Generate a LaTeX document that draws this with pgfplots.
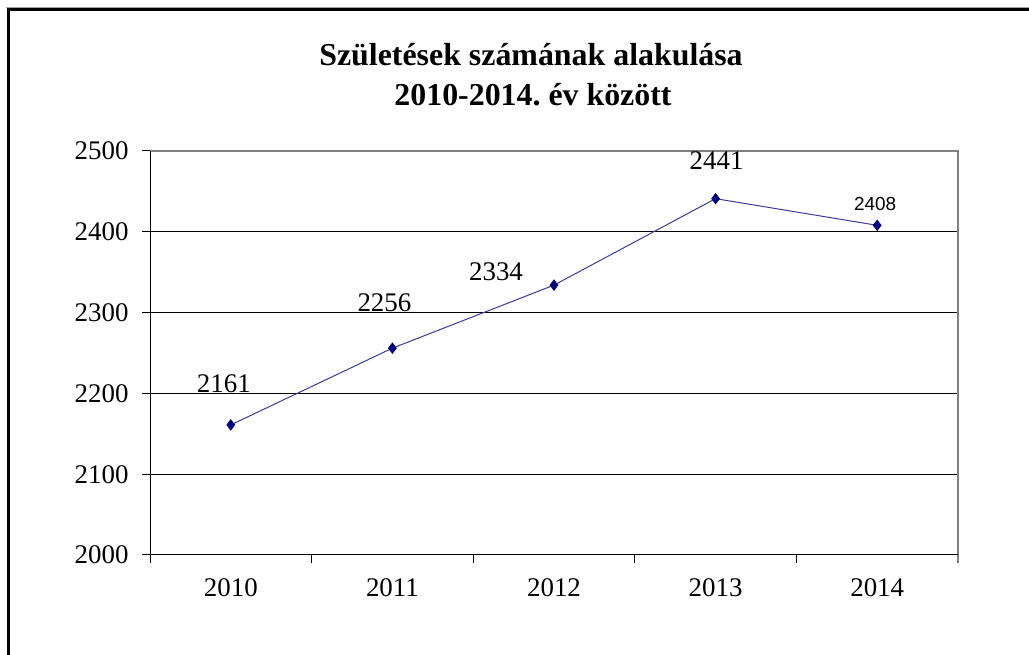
\documentclass[border=0pt]{standalone}
\usepackage{pgfplots}
\pgfplotsset{compat=1.18}
\usepackage{fontspec}
\setmainfont{Liberation Serif}
\newfontfamily\arialf{Liberation Sans}
\definecolor{serie}{RGB}{0,0,128}
\definecolor{linecol}{RGB}{60,60,150}
\frenchspacing
\begin{document}
\begin{tikzpicture}
\useasboundingbox (0,0) rectangle (1029bp,655bp);
\draw[line width=3bp, black] (8bp,-2bp) -- (8bp,645bp) -- (1031bp,645bp);
\draw[line width=1bp, black!35] (6bp,647.5bp) -- (1031bp,647.5bp);
\node[anchor=base, font=\fontsize{32}{36}\selectfont\bfseries] at (531bp,589bp) {Születések számának alakulása};
\node[anchor=base, font=\fontsize{32}{36}\selectfont\bfseries] at (533bp,549bp) {2010-2014. év között};
\begin{axis}[
  at={(150bp,100bp)}, anchor=south west,
  width=808bp, height=404bp, scale only axis,
  xmin=-0.5, xmax=4.5, ymin=2000, ymax=2500,
  xtick={0,1,2,3,4},
  xticklabels={2010,2011,2012,2013,2014},
  minor xtick={-0.5,0.5,1.5,2.5,3.5,4.5},
  ytick={2000,2100,2200,2300,2400,2500},
  tick pos=left,
  tick align=outside,
  major tick length=8bp, minor tick length=8bp,
  x tick style={draw=none},
  minor x tick style={draw=black, line width=1bp},
  y tick style={draw=black, line width=1bp},
  ymajorgrids, major grid style={black, line width=1bp},
  axis line style={draw=none},
  tick label style={font=\fontsize{27}{30}\selectfont},
  /pgf/number format/assume math mode=true,
  /pgf/number format/set thousands separator={},
  yticklabel style={xshift=-10bp},
  xticklabel style={yshift=-12bp},
  clip=false,
]
\addplot[color=linecol, line width=1bp, mark=diamond*, mark size=5bp, mark options={draw=serie, fill=serie}] coordinates {
(0,2161) (1,2256) (2,2334) (3,2441) (4,2408)
};
\draw[black!50, line width=1.5bp] (rel axis cs:0,1) -- (rel axis cs:1,1) -- ([yshift=-8bp]rel axis cs:1,0);
\draw[black, line width=1bp] (rel axis cs:0,1) -- (rel axis cs:0,0) -- (rel axis cs:1,0);
\begin{scope}[every node/.style={anchor=base, font=\fontsize{27}{30}\selectfont}]
\node[xshift=-7bp, yshift=32bp] at (axis cs:0,2161) {2161};
\node[xshift=-8bp, yshift=37bp] at (axis cs:1,2256) {2256};
\node[xshift=-58bp, yshift=5bp] at (axis cs:2,2334) {2334};
\node[xshift=1bp, yshift=29bp] at (axis cs:3,2441) {2441};
\node[xshift=-2bp, yshift=15bp, font=\arialf\fontsize{19}{22}\selectfont] at (axis cs:4,2408) {2408};
\end{scope}
\end{axis}
\end{tikzpicture}
\end{document}
